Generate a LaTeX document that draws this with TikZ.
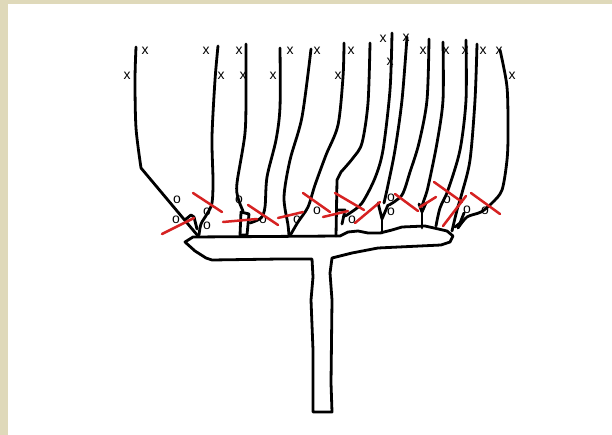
\documentclass[tikz,border=0pt]{standalone}
\usepackage{fontspec}
\setsansfont{Liberation Sans}
\usetikzlibrary{positioning, backgrounds}
\definecolor{cutred}{RGB}{214,34,34}
\definecolor{framebeige}{RGB}{223,217,186}
\tikzset{
    cane/.style={line width=2.8pt, line join=round, line cap=round}, % the wood
    cut/.style={line width=2.5pt, draw=cutred, line cap=round}, % a pruning cut
    budx/.style={font=\sffamily\fontsize{14}{14}\selectfont, inner sep=0pt}, % bud kept
    budo/.style={font=\sffamily\fontsize{14}{14}\selectfont, inner sep=0pt}, % bud left
}

\begin{document}
\begin{tikzpicture}[x=1pt, y=-1pt]

        % frame
        \useasboundingbox (0,0) rectangle (612,435);
        \fill[white] (0,0) rectangle (612,435);
        \fill[framebeige] (0,0) rectangle (8,435);
        \fill[framebeige] (0,0) rectangle (612,4);

        % cordon and trunk
        \draw[cane] (185,242) -- (193,237) -- (340,236) -- (348,232) -- (358,231) -- (368,233)
            -- (380,233) -- (392,230) -- (402,227) -- (425,226) -- (434,228) -- (447,231)
            -- (453,236) -- (450,242) -- (441,245) -- (378,248) -- (352,253) -- (332,258)
            -- (330,273) -- (332,300) -- (331,383) -- (332,412) -- (313,412) -- (313,350)
            -- (311,300) -- (313,277) -- (312,259) -- (280,259) -- (212,260) -- (206,258)
            -- (195,251) -- cycle;

        % canes
        \draw[cane] plot[smooth] coordinates {(136,47) (135,80) (136,128) (141,168)} -- (198,236);
        \draw[cane] plot[smooth] coordinates {(218,46) (215,80) (212,137) (213,180) (212,203) (207,214) (201,224) (199,235)};
        \draw[cane] plot[smooth] coordinates {(246,44) (246,87) (245,133) (237,183) (238,198) (243,211)};
        \draw[cane] plot[smooth] coordinates {(280,48) (280,107) (276,140) (267,177) (265,207) (261,218) (250,223)};
        \draw[cane] plot[smooth] coordinates {(311,49) (302,117) (290,160) (284,197) (288,225) (289,236)};
        \draw[cane] plot[smooth] coordinates {(344,43) (343,77) (338,125) (326,155) (315,185) (308,207) (298,222) (291,234)};
        \draw[cane] plot[smooth] coordinates {(370,43) (368,103) (362,143) (353,158) (341,172)} -- (337,180) -- (336,236);
        \draw[cane] plot[smooth] coordinates {(392,33) (390,90) (383,150) (375,178) (362,203) (350,213) (345,216)};
        \draw[cane] plot[smooth] coordinates {(407,37) (402,100) (395,150) (388,185) (384,203)};
        \draw[cane] plot[smooth] coordinates {(429,39) (427,100) (419,143) (410,172) (402,195) (389,205)};
        \draw[cane] plot[smooth] coordinates {(443,42) (443,100) (437,143) (428,187) (424,200) (422,206)};
        \draw[cane] plot[smooth] coordinates {(466,40) (466,100) (460,150) (448,190) (440,208) (436,226)};
        \draw[cane] plot[smooth] coordinates {(477,44) (475,100) (470,160) (462,193) (457,210) (452,231)};
        \draw[cane] plot[smooth] coordinates {(500,50) (507,87) (508,133) (507,160) (502,190) (492,203) (481,212) (467,217) (458,228)};

        % spurs
        \draw[cane] (186,219) -- (191,215) -- (194,217) -- (197,229);
        \draw[cane] (241,212) -- (249,214) -- (247,235) -- (240,235) -- cycle;
        \draw[cane] (338,210) -- (345,210) -- (342,224);
        \draw[cane] (378,203) -- (382,219) -- (388,205);
        \draw[cane] (382,219) -- (382,233);
        \draw[cane] (419,204) -- (422,212) -- (426,203);
        \draw[cane] (422,212) -- (422,228);
        \draw[cane] (464,213) -- (460,223) -- (455,227);

        % buds kept
        \node[budx] (x1) at (145,51) {x};
        \node[budx] (x2) at (127,76) {x};
        \node[budx] (x3) at (206,51) {x};
        \node[budx] (x4) at (221,76) {x};
        \node[budx] (x5) at (239,51) {x};
        \node[budx] (x6) at (243,76) {x};
        \node[budx] (x7) at (290,51) {x};
        \node[budx] (x8) at (273,76) {x};
        \node[budx] (x9) at (317,51) {x};
        \node[budx] (x10) at (351,51) {x};
        \node[budx] (x11) at (338,76) {x};
        \node[budx] (x12) at (383,39) {x};
        \node[budx] (x13) at (390,62) {x};
        \node[budx] (x14) at (406,38) {x};
        \node[budx] (x15) at (423,51) {x};
        \node[budx] (x16) at (446,51) {x};
        \node[budx] (x17) at (465,51) {x};
        \node[budx] (x18) at (483,51) {x};
        \node[budx] (x19) at (499,51) {x};
        \node[budx] (x20) at (512,76) {x};

        % buds left
        \node[budo] (o1) at (177,200) {o};
        \node[budo] (o2) at (176,220) {o};
        \node[budo] (o3) at (207,212) {o};
        \node[budo] (o4) at (207,226) {o};
        \node[budo] (o5) at (239,200) {o};
        \node[budo] (o6) at (263,220) {o};
        \node[budo] (o7) at (297,220) {o};
        \node[budo] (o8) at (317,211) {o};
        \node[budo] (o9) at (352,220) {o};
        \node[budo] (o10) at (391,198) {o};
        \node[budo] (o11) at (391,212) {o};
        \node[budo] (o12) at (447,200) {o};
        \node[budo] (o13) at (467,210) {o};
        \node[budo] (o14) at (485,211) {o};

        % cuts
        \draw[cut] (162,234) -- (194,218);
        \draw[cut] (193,193) -- (222,212);
        \draw[cut] (223,222) -- (257,219);
        \draw[cut] (248,205) -- (278,225);
        \draw[cut] (278,218) -- (303,212);
        \draw[cut] (303,193) -- (330,212);
        \draw[cut] (323,217) -- (348,211);
        \draw[cut] (335,193) -- (364,210);
        \draw[cut] (355,223) -- (380,202);
        \draw[cut] (395,194) -- (418,211);
        \draw[cut] (420,207) -- (436,197);
        \draw[cut] (434,182) -- (462,202);
        \draw[cut] (466,196) -- (443,226);
        \draw[cut] (471,193) -- (500,214);
    \end{tikzpicture}
\end{document}
